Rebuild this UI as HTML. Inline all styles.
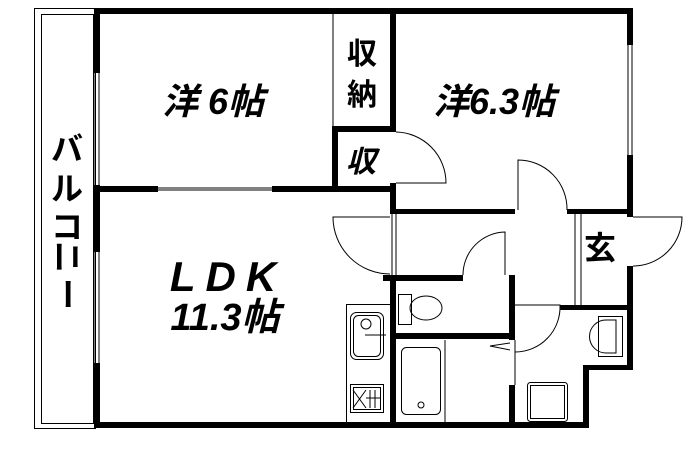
<!DOCTYPE html>
<html><head><meta charset="utf-8"><style>
html,body{margin:0;padding:0;background:#fff}
svg{display:block}
text{font-family:"Liberation Sans","Noto Sans CJK JP",sans-serif;font-weight:bold;fill:#000}
</style></head><body>
<svg width="700" height="450" viewBox="0 0 700 450" xmlns="http://www.w3.org/2000/svg">
<g fill="none" stroke="#000" stroke-width="1">
<!-- balcony -->
<rect x="34.5" y="8.5" width="61" height="420"/>
<rect x="41.5" y="14.5" width="52" height="409"/>
<!-- windows -->
<line x1="95" y1="73" x2="95" y2="185"/><line x1="99" y1="73" x2="99" y2="185"/>
<line x1="95" y1="252" x2="95" y2="363"/><line x1="99" y1="252" x2="99" y2="363"/>
<line x1="628" y1="45" x2="628" y2="155"/><line x1="632" y1="45" x2="632" y2="155"/>
<line x1="158" y1="188" x2="272" y2="188"/><line x1="158" y1="190" x2="272" y2="190"/>
<line x1="333" y1="14" x2="333" y2="126"/>
<!-- doors -->
<path d="M396 132 A51 51 0 0 1 446 183 L396 183"/>
<path d="M518 210 L518 160 A49 49 0 0 1 567 210"/>
<path d="M390 217 L333 217 A57 57 0 0 0 390 274"/>
<line x1="392" y1="214" x2="392" y2="275"/><line x1="396" y1="214" x2="396" y2="275"/>
<path d="M505 275 L505 232 A43 43 0 0 0 463 275"/>
<path d="M515 305 L560 305 A45 45 0 0 1 515 352"/>
<path d="M633 217 L682 217 A49 49 0 0 1 633 266"/>
<line x1="575" y1="214" x2="575" y2="305"/><line x1="581" y1="214" x2="581" y2="305"/>
<line x1="515" y1="340" x2="515" y2="385"/>
<path d="M510 343 L490 346 L510 350"/>
<!-- kitchen -->
<rect x="346.5" y="304.5" width="44" height="118"/>
<rect x="350.5" y="312.5" width="33" height="47" rx="6"/>
<rect x="353.5" y="315.5" width="27" height="41" rx="5"/>
<circle cx="366" cy="324" r="5"/>
<line x1="365" y1="335" x2="386" y2="335"/>
<rect x="350.5" y="384.5" width="33" height="28"/>
<rect x="353.5" y="387.5" width="27" height="22"/>
<line x1="353" y1="390" x2="366" y2="408"/><line x1="366" y1="390" x2="353" y2="408"/>
<line x1="370" y1="390" x2="370" y2="408"/><line x1="375" y1="390" x2="375" y2="408"/><line x1="366" y1="398" x2="380" y2="398"/>
<!-- toilet -->
<rect x="398.5" y="294.5" width="13" height="30"/>
<ellipse cx="426" cy="308" rx="16" ry="12"/>
<!-- bath -->
<line x1="445" y1="340" x2="445" y2="422"/>
<rect x="401.5" y="347.5" width="39" height="67" rx="5"/>
<circle cx="421" cy="405" r="3"/>
<!-- wash -->
<rect x="598.5" y="316.5" width="24" height="40"/>
<path d="M616 320 L606 320 A16 16 0 0 0 606 353 L616 353 Z"/>
<rect x="527.5" y="382.5" width="40" height="39" rx="3"/>
<rect x="530.5" y="385.5" width="34" height="33"/>
</g>
<g fill="#000">
<rect x="94" y="8" width="539" height="6"/>
<rect x="94" y="8" width="6" height="65"/>
<rect x="94" y="185" width="6" height="67"/>
<rect x="94" y="363" width="6" height="65"/>
<rect x="94" y="422" width="495" height="6"/>
<rect x="627" y="8" width="6" height="37"/>
<rect x="627" y="155" width="6" height="62"/>
<rect x="627" y="266" width="6" height="104"/>
<rect x="583" y="365" width="50" height="5"/>
<rect x="583" y="365" width="6" height="63"/>
<rect x="94" y="186" width="64" height="6"/>
<rect x="272" y="186" width="124" height="6"/>
<rect x="333" y="126" width="63" height="6"/>
<rect x="332" y="126" width="6" height="66"/>
<rect x="390" y="8" width="6" height="124"/>
<rect x="390" y="183" width="6" height="31"/>
<rect x="390" y="209" width="125" height="5"/>
<rect x="567" y="209" width="66" height="5"/>
<rect x="383" y="275" width="80" height="6"/>
<rect x="509" y="275" width="6" height="65"/>
<rect x="509" y="385" width="6" height="43"/>
<rect x="390" y="275" width="6" height="153"/>
<rect x="390" y="333" width="125" height="6"/>
<rect x="560" y="305" width="73" height="5"/>
</g>
<text x="213" y="114" font-size="36" font-style="italic" text-anchor="middle">洋 6帖</text>
<text x="494" y="114" font-size="36" font-style="italic" text-anchor="middle">洋6.3帖</text>
<text x="362" y="64" font-size="30" text-anchor="middle">収</text>
<text x="362" y="105" font-size="30" text-anchor="middle">納</text>
<text x="361" y="172" font-size="30" font-style="italic" text-anchor="middle">収</text>
<text x="600" y="259" font-size="32" text-anchor="middle">玄</text>
<text x="228" y="291" font-size="42" font-style="italic" text-anchor="middle" letter-spacing="10" font-weight="normal">LDK</text>
<text x="225" y="330" font-size="38" font-style="italic" text-anchor="middle" font-weight="normal">11.3帖</text>
<g font-size="32">
<text x="67" y="160" text-anchor="middle">バ</text>
<text x="67" y="200" text-anchor="middle">ル</text>
<text x="67" y="238" text-anchor="middle">コ</text>
<text x="67" y="268" text-anchor="middle" transform="rotate(90 67 257)">ニ</text>
<text x="67" y="305" text-anchor="middle" transform="rotate(90 67 294)">ー</text>
</g>
</svg>
</body></html>
